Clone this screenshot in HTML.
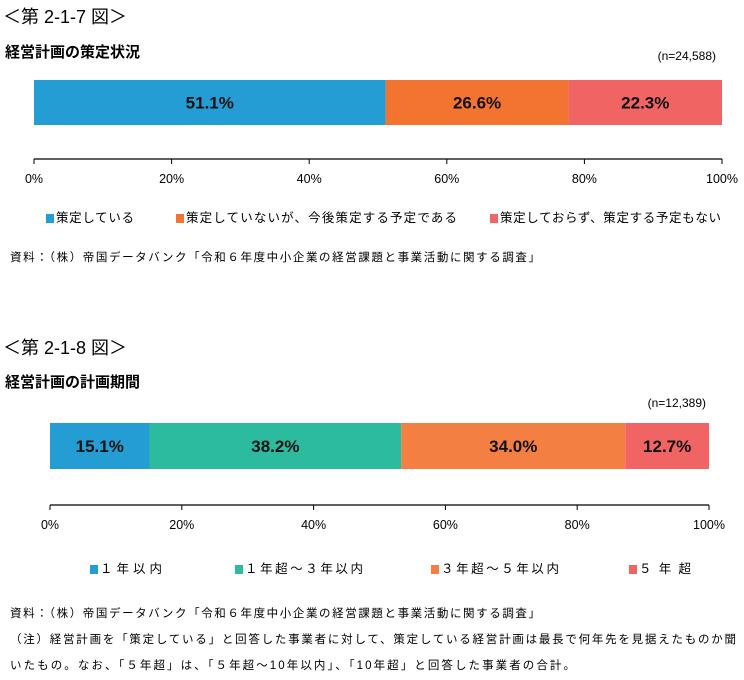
<!DOCTYPE html>
<html><head><meta charset="utf-8"><style>
body{margin:0;background:#fff;width:744px;height:675px;overflow:hidden;font-family:"Liberation Sans","Noto Sans CJK JP",sans-serif;}
svg text{font-family:"Liberation Sans","Noto Sans CJK JP",sans-serif;}
</style></head><body>
<svg width="744" height="675" xmlns="http://www.w3.org/2000/svg" id="root">
<text x="3" y="23" font-size="18" fill="#000">＜第 2-1-7 図＞</text>
<text x="5" y="57" font-size="15" font-weight="bold" fill="#000">経営計画の策定状況</text>
<text x="716" y="60" font-size="12" text-anchor="end" fill="#000">(n=24,588)</text>
<g id="c1"></g>
<text x="10" y="261" font-size="11.5" fill="#000" textLength="530">資料：（株）帝国データバンク「令和６年度中小企業の経営課題と事業活動に関する調査」</text>

<text x="3" y="354" font-size="18" fill="#000">＜第 2-1-8 図＞</text>
<text x="5" y="387" font-size="15" font-weight="bold" fill="#000">経営計画の計画期間</text>
<text x="706" y="407" font-size="12" text-anchor="end" fill="#000">(n=12,389)</text>
<g id="c2"></g>
<text x="10" y="617" font-size="11.5" fill="#000" textLength="530">資料：（株）帝国データバンク「令和６年度中小企業の経営課題と事業活動に関する調査」</text>
<text x="10" y="643" font-size="11.5" fill="#000" textLength="726">（注）経営計画を「策定している」と回答した事業者に対して、策定している経営計画は最長で何年先を見据えたものか聞</text>
<text x="10" y="669" font-size="11.5" fill="#000" textLength="565">いたもの。なお、「５年超」は、「５年超～10年以内」、「10年超」と回答した事業者の合計。</text>
</svg>
<script>
const c1Categories = ["策定している","策定していないが、今後策定する予定である","策定しておらず、策定する予定もない"];
const c1Values = [51.1, 26.6, 22.3];
const c1Colors = ["#239dd3","#f37331","#f06464"];
const c2Categories = ["１年以内","１年超～３年以内","３年超～５年以内","５年超"];
const c2Values = [15.1, 38.2, 34.0, 12.7];
const c2Colors = ["#239dd3","#2dbba0","#f38042","#f06464"];
const tickLabels = ["0%","20%","40%","60%","80%","100%"];
const NS="http://www.w3.org/2000/svg";
function mk(parent,tag,attrs){const e=document.createElementNS(NS,tag);for(const k in attrs)e.setAttribute(k,attrs[k]);parent.appendChild(e);return e;}
function draw(g,cats,vals,cols,cfg,pref){
  const x=v=>cfg.x0+(cfg.x1-cfg.x0)*v/100;
  let acc=0;
  vals.forEach((v,i)=>{
    const r=mk(g,'rect',{x:x(acc),y:cfg.by,width:x(acc+v)-x(acc),height:cfg.bh,fill:cols[i]});
    
    
    const t=mk(g,'text',{x:(x(acc)+x(acc+v))/2,y:cfg.by+cfg.bh/2+6,'text-anchor':'middle','font-size':17,'font-weight':'bold',fill:'#111'});
    t.textContent=v.toFixed(1)+'%';
    
    
    acc+=v;
  });
  const ax=mk(g,'line',{x1:cfg.x0,x2:cfg.x1,y1:cfg.ay,y2:cfg.ay,stroke:'#000','stroke-width':1.3});
  
  
  tickLabels.forEach((l,i)=>{
    const v=i*20;
    mk(g,'line',{x1:x(v),x2:x(v),y1:cfg.ay,y2:cfg.ay+5,stroke:'#000'});
    const t=mk(g,'text',{x:x(v),y:cfg.ay+24,'text-anchor':'middle','font-size':12.5,fill:'#000'});
    t.textContent=l;
    
    
  });
  cats.forEach((c,i)=>{
    const lg=mk(g,'g',{});
    
    
    mk(lg,'rect',{x:cfg.lx[i],y:cfg.ly-8,width:8,height:9,fill:cols[i]});
    const t=mk(lg,'text',{x:cfg.lx[i]+10,y:cfg.ly,'font-size':12.5,fill:'#000',textLength:cfg.lw[i]});
    t.textContent=c;
  });
}
draw(document.getElementById('c1'),c1Categories,c1Values,c1Colors,{x0:34,x1:722,by:80,bh:45,ay:159,lx:[46,176,490],lw:[78,271,221],ly:222},'chart1');
draw(document.getElementById('c2'),c2Categories,c2Values,c2Colors,{x0:50,x1:709,by:423,bh:46,ay:505,lx:[90,235,431,629],lw:[62,118,118,52],ly:573},'chart2');
</script>
</body></html>
